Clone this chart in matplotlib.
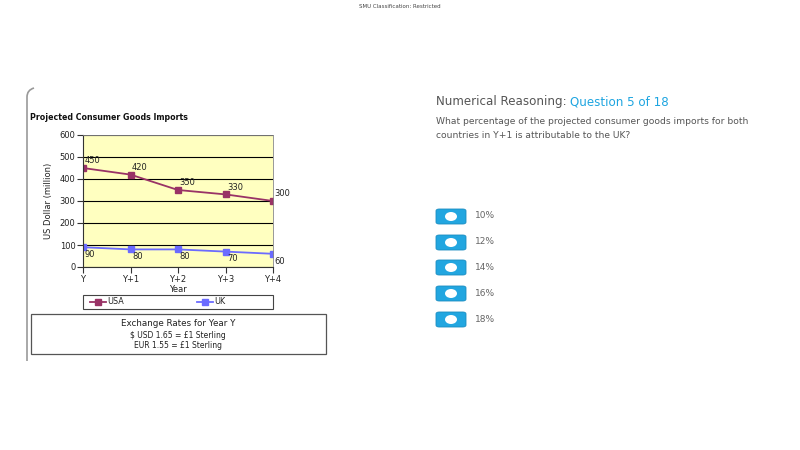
import matplotlib
matplotlib.use("Agg")
import matplotlib.pyplot as plt
from matplotlib.patches import FancyBboxPatch, Ellipse, Rectangle
from matplotlib.lines import Line2D
from matplotlib.path import Path
from matplotlib.patches import PathPatch

years = ["Y", "Y+1", "Y+2", "Y+3", "Y+4"]
usa = [450, 420, 350, 330, 300]
uk = [90, 80, 80, 70, 60]
options = ["10%", "12%", "14%", "16%", "18%"]

W, H = 800, 450
fig = plt.figure(figsize=(8, 4.5), dpi=100)
fig.patch.set_facecolor("white")

def fx(x):
    return x / W

def fy(y):
    return 1 - y / H

# header
fig.text(0.5, fy(7), "SMU Classification: Restricted", ha="center", va="center",
         fontsize=4, color="#444444")

# left panel border (rounded top-left)
verts = [(fx(27), fy(361)), (fx(27), fy(97)), (fx(27), fy(90)), (fx(34), fy(88))]
codes = [Path.MOVETO, Path.LINETO, Path.CURVE3, Path.CURVE3]
fig.add_artist(PathPatch(Path(verts, codes), transform=fig.transFigure,
                         fill=False, edgecolor="#999999", lw=1.2))

# chart title
fig.text(fx(30), fy(117), "Projected Consumer Goods Imports", ha="left", va="center",
         fontsize=5.7, fontweight="bold", color="#111111")

# main axes
ax = fig.add_axes([fx(83), fy(267), fx(273) - fx(83), fy(135) - fy(267)])
ax.set_facecolor("#ffffc0")
x = list(range(len(years)))
ax.plot(x, usa, color="#993366", marker="s", markersize=4.5, lw=1.3, label="USA")
ax.plot(x, uk, color="#6b6bff", marker="s", markersize=4.5, lw=1.3, label="UK")
ax.set_xlim(0, len(years) - 1)
ax.set_ylim(0, 600)
ax.set_yticks(range(0, 601, 100))
ax.set_xticks(x)
ax.set_xticklabels(years)
ax.yaxis.grid(True, color="#000000", lw=0.8)
ax.set_axisbelow(True)
ax.tick_params(axis="both", labelsize=6, length=4, width=0.8, color="#333333",
               labelcolor="#222222", pad=1.5)
for s in ["top", "right"]:
    ax.spines[s].set_color("#888888")
    ax.spines[s].set_linewidth(0.6)
for s in ["left", "bottom"]:
    ax.spines[s].set_color("#333333")
    ax.spines[s].set_linewidth(0.8)
ax.set_ylabel("US Dollar (million)", fontsize=6, color="#222222", labelpad=5)
ax.set_xlabel("Year", fontsize=6, color="#222222", labelpad=1)

for i, v in enumerate(usa):
    ax.annotate(str(v), (i, v), xytext=(1, 2), textcoords="offset points",
                fontsize=6, color="#222222", ha="left", va="bottom")
for i, v in enumerate(uk):
    ax.annotate(str(v), (i, v), xytext=(1, -2), textcoords="offset points",
                fontsize=6, color="#222222", ha="left", va="top")

# legend box
fig.add_artist(Rectangle((fx(83), fy(309)), fx(273) - fx(83), fy(295) - fy(309),
                         transform=fig.transFigure, fill=False, edgecolor="#444444", lw=0.8))
for lx, name, col in [(90, "USA", "#993366"), (197, "UK", "#6b6bff")]:
    fig.add_artist(Line2D([fx(lx), fx(lx + 16)], [fy(301.5), fy(301.5)], color=col, lw=1.3,
                          transform=fig.transFigure))
    fig.add_artist(Line2D([fx(lx + 8)], [fy(301.5)], color=col, marker="s", markersize=4,
                          transform=fig.transFigure))
    fig.text(fx(lx + 17), fy(301.5), name, fontsize=5.8, va="center", ha="left", color="#222222")

# exchange rate box
fig.add_artist(Rectangle((fx(31), fy(354)), fx(326) - fx(31), fy(314) - fy(354),
                         transform=fig.transFigure, fill=False, edgecolor="#555555", lw=0.9))
fig.text(fx(178), fy(323), "Exchange Rates for Year Y", fontsize=6.3, ha="center", va="center",
         color="#222222")
fig.text(fx(178), fy(335), "$ USD 1.65 = £1 Sterling", fontsize=5.5, ha="center", va="center",
         color="#222222")
fig.text(fx(178), fy(346), "EUR 1.55 = £1 Sterling", fontsize=5.5, ha="center", va="center",
         color="#222222")

# question area
t1 = fig.text(fx(436), fy(102), "Numerical Reasoning:", fontsize=8.6, ha="left", va="center",
              color="#555555")
fig.canvas.draw()
bb = t1.get_window_extent()
fig.text(bb.x1 / W + 0.004, fy(102), "Question 5 of 18", fontsize=8.6, ha="left",
         va="center", color="#1ea5e0")
fig.text(fx(436), fy(121), "What percentage of the projected consumer goods imports for both",
         fontsize=6.6, ha="left", va="center", color="#555555")
fig.text(fx(436), fy(135), "countries in Y+1 is attributable to the UK?",
         fontsize=6.6, ha="left", va="center", color="#555555")

ys = [217, 243, 268, 294, 320]
for yy, lab in zip(ys, options):
    fig.add_artist(FancyBboxPatch((fx(436), fy(yy + 7)), fx(466) - fx(436), fy(yy - 8) - fy(yy + 7),
                                  boxstyle="round,pad=0,rounding_size=0.004",
                                  transform=fig.transFigure, facecolor="#22a6e0",
                                  edgecolor="#1a8cc0", lw=0.6))
    fig.add_artist(Ellipse((fx(451), fy(yy - 0.5)), fx(12), fy(0) - fy(9),
                           transform=fig.transFigure, facecolor="white", edgecolor="none"))
    fig.text(fx(475), fy(yy - 1), lab, fontsize=6.5, ha="left", va="center", color="#666666")

fig.savefig("out.png", dpi=100, facecolor="white")
